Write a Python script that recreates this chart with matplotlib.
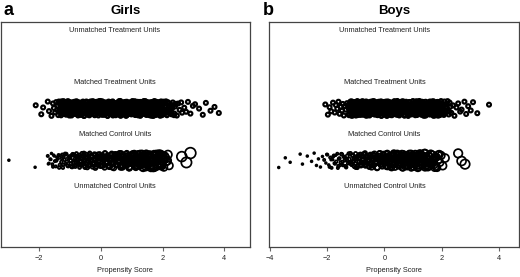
import numpy as np
import matplotlib
matplotlib.use('Agg')
import matplotlib.pyplot as plt

plt.rcParams['font.family'] = ['Liberation Sans', 'DejaVu Sans']

# ---------------- data ----------------
panel_letters = ['a', 'b']
panel_titles = ['Girls', 'Boys']
group_labels = ['Unmatched Treatment Units', 'Matched Treatment Units',
                'Matched Control Units', 'Unmatched Control Units']
label_levels = [4, 3, 2, 1]
treated_level = 2.5
control_level = 1.5
label_x = [0.45, 0.0]
xticks = [[-2, 0, 2, 4], [-4, -2, 0, 2, 4]]
xlims = [(-3.25, 4.83), (-4.03, 4.71)]
x_label = 'Propensity Score'

girls_treated = [
    -2.11, -1.93, -1.87, -1.72, -1.68, -1.60, -1.55, -1.52, -1.48, -1.45,
    -1.42, -1.40, -1.38, -1.35, -1.33, -1.30,
    -1.28, -1.26, -1.21, -1.19, -1.15, -1.12, -1.10, -1.06, -1.03, -1.01,
    -0.98, -0.95, -0.93, -0.90, -0.86, -0.84, -0.81, -0.79, -0.75, -0.73,
    -0.70, -0.68, -0.64, -0.62, -0.59, -0.57, -0.54, -0.51, -0.49, -0.46,
    -0.44, -0.41, -0.38, -0.36, -0.33, -0.31, -0.28, -0.25, -0.23, -0.20,
    -0.18, -0.15, -0.13, -0.10, -0.07, -0.05, -0.02, 0.00, 0.03, 0.05,
    0.08, 0.10, 0.13, 0.16, 0.18, 0.21, 0.23, 0.26, 0.28, 0.31,
    0.34, 0.36, 0.39, 0.41, 0.44, 0.46, 0.49, 0.52, 0.54, 0.57,
    0.59, 0.62, 0.64, 0.67, 0.70, 0.72, 0.75, 0.77, 0.80, 0.82,
    0.85, 0.88, 0.90, 0.93, 0.95, 0.98, 1.00, 1.03, 1.06, 1.08,
    1.11, 1.13, 1.16, 1.18, 1.21, 1.24, 1.26, 1.29, 1.31, 1.34,
    1.36, 1.39, 1.42, 1.44, 1.47, 1.49, 1.52, 1.54, 1.57, 1.60,
    1.62, 1.65, 1.67, 1.70, 1.72, 1.75, 1.78, 1.80, 1.83, 1.85,
    1.88, 1.90, 1.93, 1.96, 1.98, 2.01, 2.04, 2.07, 2.11, 2.15,
    2.19, 2.24, 2.29, 2.34, 2.40, 2.46,
    2.50, 2.55, 2.60, 2.63, 2.70, 2.76, 2.82, 2.90, 2.98, 3.05,
    3.18, 3.30, 3.40, 3.55, 3.68, 3.82,
    -1.36, -1.33, -1.31, -1.29, -1.27, -1.24, -1.22, -1.20, -1.17, -1.14,
    -1.13, -1.11, -1.08, -1.07, -1.04, -1.02, -1.00, -0.97, -0.96, -0.94,
    -0.91, -0.89, -0.87, -0.85, -0.83, -0.80, -0.78, -0.77, -0.74, -0.71,
    -0.69, -0.67, -0.65, -0.63, -0.61, -0.58, -0.56, -0.55, -0.52, -0.50,
    -0.48, -0.45, -0.43, -0.42, -0.39, -0.37, -0.35, -0.32, -0.30, -0.29,
    -0.26, -0.24, -0.22, -0.19, -0.17, -0.16, -0.14, -0.11, -0.09, -0.08,
    -0.06, -0.03, -0.01, 0.01, 0.02, 0.04, 0.07, 0.09, 0.11, 0.12,
    0.14, 0.17, 0.19, 0.20, 0.22, 0.25, 0.27, 0.29, 0.30, 0.33,
    0.35, 0.37, 0.38, 0.40, 0.43, 0.45, 0.47, 0.48, 0.51, 0.53,
    0.55, 0.56, 0.58, 0.61, 0.63, 0.65, 0.66, 0.69, 0.71, 0.73,
    0.74, 0.76, 0.79, 0.81, 0.83, 0.84, 0.87, 0.89, 0.91, 0.92,
    0.94, 0.97, 0.99, 1.01, 1.02, 1.05, 1.07, 1.09, 1.10, 1.12,
    1.15, 1.17, 1.19, 1.20, 1.23, 1.25, 1.27, 1.28, 1.30, 1.33,
    1.35, 1.37, 1.38, 1.41, 1.43, 1.45, 1.46, 1.48, 1.51, 1.53,
    1.55, 1.56, 1.59, 1.61, 1.63, 1.64, 1.66, 1.69, 1.71, 1.73,
    1.74, 1.77, 1.79, 1.81, 1.82, 1.84, 1.87, 1.89, 1.91, 1.92,
    1.95, 1.97, 1.99, 2.00, 2.03, 2.06, 2.09, 2.13, 2.17, 2.21,
    2.26, 2.31, 2.37, 2.43,
    -1.34, -1.30, -1.27, -1.23, -1.20, -1.16, -1.13, -1.09, -1.05, -1.02,
    -0.99, -0.96, -0.92, -0.88, -0.85, -0.82, -0.78, -0.76, -0.72, -0.69,
    -0.66, -0.63, -0.60, -0.56, -0.53, -0.50, -0.47, -0.45, -0.40, -0.37,
    -0.34, -0.30, -0.27, -0.24, -0.21, -0.18, -0.15, -0.12, -0.08, -0.06,
    -0.03, 0.00, 0.04, 0.06, 0.09, 0.13, 0.15, 0.18, 0.21, 0.24,
    0.27, 0.30, 0.32, 0.35, 0.39, 0.42, 0.44, 0.47, 0.50, 0.53,
    0.56, 0.59, 0.62, 0.64, 0.68, 0.70, 0.73, 0.76, 0.79, 0.82,
    0.84, 0.87, 0.90, 0.93, 0.96, 0.99, 1.02, 1.04, 1.07, 1.10,
    1.13, 1.16, 1.19, 1.22, 1.24, 1.27, 1.30, 1.33, 1.36, 1.39,
    1.41, 1.44, 1.47, 1.50, 1.53, 1.56, 1.58, 1.61, 1.64, 1.67,
    1.70, 1.73, 1.76, 1.79, 1.82, 1.86, 1.89, 1.92, 1.95, 1.99,
    2.02, 2.05, 2.10, 2.14, 2.20, 2.27, 2.33, 2.38,
]

girls_control = [
    -2.98, -2.13, -1.72, -1.68, -1.64, -1.60, -1.57, -1.53, -1.49, -1.46,
    -1.42, -1.39, -1.35, -1.32, -1.28, -1.25, -1.22, -1.18, -1.15, -1.12,
    -1.08, -1.05, -1.02, -0.98, -0.95, -0.92, -0.89, -0.85, -0.82, -0.79,
    -0.75, -0.72, -0.69, -0.66, -0.62, -0.59, -0.56, -0.53, -0.49, -0.46,
    -0.43, -0.40, -0.36, -0.33, -0.30, -0.27, -0.23, -0.20, -0.17, -0.14,
    -0.10, -0.07, -0.04, -0.01, 0.03, 0.06, 0.09, 0.12, 0.16, 0.19,
    0.22, 0.25, 0.29, 0.32, 0.35, 0.38, 0.42, 0.45, 0.48, 0.51,
    0.55, 0.58, 0.61, 0.64, 0.68, 0.71, 0.74, 0.77, 0.81, 0.84,
    0.87, 0.90, 0.94, 0.97, 1.00, 1.03, 1.07, 1.10, 1.13, 1.16,
    1.20, 1.23, 1.26, 1.29, 1.33, 1.36, 1.39, 1.42, 1.46, 1.49,
    1.52, 1.55, 1.59, 1.62, 1.65, 1.68, 1.72, 1.75, 1.78, 1.81,
    1.85, 1.88, 1.91, 1.94, 1.98, 2.01, 2.04, 2.08, 2.12, 2.17,
    2.21, 2.62, 2.77, 2.90,
    -1.70, -1.62, -1.55, -1.51, -1.44, -1.37, -1.33, -1.27, -1.23, -1.20,
    -1.16, -1.10, -1.06, -1.00, -0.96, -0.91, -0.87, -0.83, -0.77, -0.73,
    -0.70, -0.64, -0.60, -0.55, -0.51, -0.47, -0.41, -0.38, -0.34, -0.29,
    -0.25, -0.21, -0.18, -0.12, -0.08, -0.05, 0.01, 0.04, 0.08, 0.11,
    0.14, 0.17, 0.21, 0.24, 0.27, 0.30, 0.34, 0.37, 0.40, 0.43,
    0.47, 0.50, 0.53, 0.56, 0.60, 0.63, 0.66, 0.69, 0.73, 0.76,
    0.79, 0.82, 0.86, 0.89, 0.92, 0.95, 0.99, 1.02, 1.05, 1.08,
    1.12, 1.15, 1.18, 1.21, 1.25, 1.28, 1.31, 1.34, 1.38, 1.41,
    1.44, 1.47, 1.51, 1.54, 1.57, 1.60, 1.64, 1.67, 1.70, 1.73,
    1.77, 1.80, 1.83, 1.86, 1.90, 1.93, 1.96, 2.00, 2.06, 2.14,
    -0.93, -0.86, -0.80, -0.74, -0.68, -0.61, -0.54, -0.48, -0.44, -0.38,
    -0.31, -0.26, -0.19, -0.15, -0.09, -0.03, 0.02, 0.07, 0.13, 0.18,
    0.23, 0.28, 0.33, 0.39, 0.44, 0.49, 0.54, 0.59, 0.65, 0.70,
    0.75, 0.80, 0.85, 0.91, 0.96, 1.01, 1.06, 1.11, 1.17, 1.22,
    1.27, 1.32, 1.37, 1.43, 1.48, 1.53, 1.58, 1.63, 1.69, 1.74,
    1.79, 1.84, 1.89, 1.95, 2.03,
]
girls_control_w = [
    0.4, 0.4, 0.5, 0.4, 0.5, 0.4, 0.5, 0.4, 0.5, 0.5,
    0.5, 0.5, 0.6, 0.5, 0.6, 0.5, 0.6, 0.6, 0.5, 0.6,
    0.6, 0.7, 0.6, 0.7, 0.6, 0.7, 0.7, 0.6, 0.7, 0.7,
    0.7, 0.8, 0.7, 0.8, 0.7, 0.8, 0.8, 0.7, 0.8, 0.8,
    0.8, 0.9, 0.8, 0.9, 0.8, 0.9, 0.8, 0.9, 0.9, 0.8,
    0.9, 0.9, 0.8, 1.0, 0.9, 1.0, 0.9, 1.0, 0.9, 1.0,
    1.0, 0.9, 1.0, 1.1, 1.0, 0.9, 1.1, 1.0, 1.0, 1.1,
    1.0, 1.1, 1.0, 1.2, 1.1, 1.0, 1.2, 1.1, 1.2, 1.1,
    1.2, 1.1, 1.3, 1.2, 1.1, 1.3, 1.2, 1.4, 1.2, 1.3,
    1.4, 1.2, 1.3, 1.5, 1.3, 1.4, 1.5, 1.3, 1.6, 1.4,
    1.5, 1.4, 1.6, 1.5, 1.4, 1.7, 1.5, 1.6, 1.4, 1.7,
    1.6, 1.5, 1.7, 1.6, 1.9, 1.7, 1.6, 1.8, 1.7, 1.8,
    1.7, 2.2, 2.3, 2.4,
    0.4, 0.4, 0.5, 0.4, 0.5, 0.5, 0.6, 0.5, 0.6, 0.5,
    0.6, 0.6, 0.7, 0.6, 0.7, 0.7, 0.6, 0.7, 0.8, 0.7,
    0.8, 0.7, 0.8, 0.8, 0.9, 0.8, 0.8, 0.9, 0.8, 0.9,
    0.9, 0.8, 1.0, 0.9, 0.9, 1.0, 0.9, 1.0, 1.0, 0.9,
    1.0, 1.1, 1.0, 0.9, 1.1, 1.0, 1.1, 1.0, 1.1, 1.2,
    1.0, 1.1, 1.2, 1.1, 1.0, 1.2, 1.1, 1.3, 1.2, 1.1,
    1.2, 1.3, 1.1, 1.2, 1.3, 1.2, 1.4, 1.3, 1.2, 1.4,
    1.3, 1.2, 1.4, 1.5, 1.3, 1.4, 1.3, 1.5, 1.4, 1.6,
    1.5, 1.4, 1.6, 1.5, 1.7, 1.4, 1.6, 1.5, 1.7, 1.6,
    1.5, 1.8, 1.6, 1.7, 1.9, 1.6, 1.8, 1.7, 1.8, 1.9,
    0.7, 0.7, 0.8, 0.7, 0.8, 0.8, 0.9, 0.8, 0.9, 0.9,
    0.9, 1.0, 0.9, 1.0, 0.9, 1.0, 1.0, 1.1, 1.0, 1.1,
    1.0, 1.1, 1.2, 1.0, 1.1, 1.2, 1.1, 1.2, 1.3, 1.1,
    1.2, 1.3, 1.2, 1.3, 1.4, 1.2, 1.3, 1.4, 1.3, 1.5,
    1.4, 1.3, 1.5, 1.4, 1.6, 1.5, 1.4, 1.6, 1.5, 1.7,
    1.6, 1.5, 1.7, 1.6, 1.8,
]

boys_treated = [
    -2.07, -1.98, -1.92, -1.86, -1.80, -1.74, -1.70, -1.65, -1.61, -1.57,
    -1.53, -1.49, -1.46, -1.42, -1.39, -1.35, -1.31, -1.28, -1.25,
    -1.22, -1.19, -1.16, -1.13, -1.11, -1.08, -1.05, -1.02, -0.99, -0.97,
    -0.94, -0.91, -0.88, -0.86, -0.83, -0.80, -0.77, -0.74, -0.72, -0.69,
    -0.66, -0.63, -0.61, -0.58, -0.55, -0.52, -0.49, -0.47, -0.44, -0.41,
    -0.38, -0.36, -0.33, -0.30, -0.27, -0.24, -0.22, -0.19, -0.16, -0.13,
    -0.11, -0.08, -0.05, -0.02, 0.01, 0.03, 0.06, 0.09, 0.12, 0.14,
    0.17, 0.20, 0.23, 0.26, 0.28, 0.31, 0.34, 0.37, 0.39, 0.42,
    0.45, 0.48, 0.51, 0.53, 0.56, 0.59, 0.62, 0.64, 0.67, 0.70,
    0.73, 0.76, 0.78, 0.81, 0.84, 0.87, 0.89, 0.92, 0.95, 0.98,
    1.01, 1.03, 1.06, 1.09, 1.12, 1.14, 1.17, 1.20, 1.23, 1.26,
    1.28, 1.31, 1.34, 1.37, 1.39, 1.42, 1.45, 1.48, 1.51, 1.53,
    1.56, 1.59, 1.62, 1.64, 1.67, 1.70, 1.73, 1.76, 1.78, 1.81,
    1.84, 1.87, 1.89, 1.92, 1.95, 1.98, 2.01, 2.04, 2.08, 2.12,
    2.17, 2.22, 2.28, 2.34,
    2.40, 2.45, 2.52, 2.58, 2.65, 2.70, 2.80, 2.86, 2.93, 3.02,
    3.10, 3.25, 3.66,
    -1.26, -1.24, -1.21, -1.18, -1.17, -1.15, -1.12, -1.10, -1.07, -1.06,
    -1.04, -1.01, -1.00, -0.98, -0.96, -0.93, -0.92, -0.90, -0.87, -0.85,
    -0.84, -0.82, -0.79, -0.78, -0.76, -0.73, -0.71, -0.70, -0.68, -0.65,
    -0.64, -0.62, -0.59, -0.57, -0.56, -0.54, -0.51, -0.50, -0.48, -0.45,
    -0.43, -0.42, -0.40, -0.37, -0.35, -0.34, -0.31, -0.29, -0.28, -0.26,
    -0.23, -0.21, -0.20, -0.17, -0.15, -0.14, -0.12, -0.09, -0.07, -0.06,
    -0.04, -0.01, 0.00, 0.02, 0.05, 0.07, 0.08, 0.10, 0.13, 0.15,
    0.16, 0.19, 0.21, 0.22, 0.24, 0.27, 0.29, 0.30, 0.33, 0.35,
    0.36, 0.38, 0.41, 0.43, 0.44, 0.47, 0.49, 0.50, 0.52, 0.55,
    0.57, 0.58, 0.61, 0.63, 0.65, 0.66, 0.69, 0.71, 0.72, 0.75,
    0.77, 0.79, 0.80, 0.83, 0.85, 0.86, 0.88, 0.91, 0.93, 0.94,
    0.97, 0.99, 1.00, 1.02, 1.05, 1.07, 1.08, 1.11, 1.13, 1.15,
    1.16, 1.19, 1.21, 1.22, 1.25, 1.27, 1.29, 1.30, 1.33, 1.35,
    1.36, 1.38, 1.41, 1.43, 1.44, 1.47, 1.49, 1.50, 1.52, 1.55,
    1.57, 1.58, 1.61, 1.63, 1.65, 1.66, 1.69, 1.71, 1.72, 1.75,
    1.77, 1.79, 1.80, 1.83, 1.85, 1.86, 1.88, 1.91, 1.93, 1.94,
    1.97, 2.00, 2.03, 2.06, 2.10, 2.14, 2.19, 2.25, 2.31,
    -1.24, -1.20, -1.17, -1.14, -1.10, -1.07, -1.04, -1.00, -0.97, -0.95,
    -0.92, -0.89, -0.85, -0.82, -0.79, -0.76, -0.73, -0.70, -0.67, -0.64,
    -0.60, -0.57, -0.54, -0.51, -0.48, -0.45, -0.42, -0.39, -0.36, -0.33,
    -0.30, -0.27, -0.24, -0.21, -0.18, -0.15, -0.12, -0.09, -0.06, -0.03,
    0.00, 0.04, 0.07, 0.10, 0.13, 0.16, 0.19, 0.22, 0.25, 0.28,
    0.31, 0.34, 0.37, 0.40, 0.43, 0.46, 0.49, 0.52, 0.55, 0.58,
    0.61, 0.64, 0.67, 0.70, 0.73, 0.76, 0.79, 0.82, 0.85, 0.88,
    0.91, 0.94, 0.97, 1.00, 1.03, 1.06, 1.09, 1.12, 1.15, 1.18,
    1.21, 1.24, 1.27, 1.30, 1.33, 1.36, 1.39, 1.42, 1.45, 1.48,
    1.51, 1.54, 1.57, 1.60, 1.63, 1.66, 1.69, 1.72, 1.75, 1.78,
    1.81, 1.84, 1.87, 1.90, 1.94, 1.97, 2.01, 2.05, 2.09, 2.15,
    2.21, 2.27,
]

boys_control = [
    -3.70, -3.47, -3.30, -2.95, -2.87, -2.70, -2.55, -2.46, -2.38, -2.31,
    -2.24, -2.17, -2.11, -2.05, -2.00, -1.95, -1.90, -1.85, -1.81, -1.77,
    -1.73, -1.69, -1.65, -1.61, -1.57, -1.53, -1.49, -1.45, -1.42, -1.38,
    -1.34, -1.30, -1.27, -1.23, -1.19, -1.16, -1.12, -1.09, -1.05, -1.02,
    -0.98, -0.95, -0.91, -0.88, -0.84, -0.81, -0.77, -0.74, -0.70, -0.67,
    -0.63, -0.60, -0.56, -0.53, -0.49, -0.46, -0.42, -0.39, -0.35, -0.32,
    -0.28, -0.25, -0.21, -0.18, -0.14, -0.11, -0.07, -0.04, 0.00, 0.03,
    0.07, 0.10, 0.14, 0.17, 0.21, 0.24, 0.28, 0.31, 0.35, 0.38,
    0.42, 0.45, 0.49, 0.52, 0.56, 0.59, 0.63, 0.66, 0.70, 0.73,
    0.77, 0.80, 0.84, 0.87, 0.91, 0.94, 0.98, 1.01, 1.05, 1.08,
    1.12, 1.15, 1.19, 1.22, 1.26, 1.29, 1.33, 1.36, 1.40, 1.43,
    1.47, 1.50, 1.54, 1.58, 1.62, 1.66, 1.71, 1.76, 1.82, 1.88,
    1.95, 2.04, 2.12, 2.58, 2.70, 2.82,
    -2.02, -1.92, -1.87, -1.79, -1.75, -1.71, -1.63, -1.59, -1.55, -1.51,
    -1.47, -1.40, -1.36, -1.32, -1.25, -1.21, -1.14, -1.10, -1.07, -1.00,
    -0.96, -0.93, -0.86, -0.82, -0.79, -0.72, -0.68, -0.65, -0.58, -0.54,
    -0.51, -0.44, -0.40, -0.37, -0.30, -0.26, -0.23, -0.16, -0.12, -0.09,
    -0.02, 0.01, 0.05, 0.09, 0.12, 0.16, 0.19, 0.23, 0.26, 0.30,
    0.33, 0.37, 0.40, 0.44, 0.47, 0.51, 0.54, 0.58, 0.61, 0.65,
    0.68, 0.72, 0.75, 0.79, 0.82, 0.86, 0.89, 0.93, 0.96, 1.00,
    1.03, 1.07, 1.10, 1.14, 1.17, 1.21, 1.24, 1.28, 1.31, 1.35,
    1.38, 1.42, 1.45, 1.49, 1.52, 1.56, 1.60, 1.64, 1.68, 1.73,
    1.78, 1.84, 1.90, 1.98,
    -1.15, -1.08, -1.01, -0.94, -0.87, -0.80, -0.73, -0.66, -0.59, -0.52,
    -0.45, -0.38, -0.31, -0.24, -0.17, -0.10, -0.04, 0.02, 0.08, 0.13,
    0.19, 0.25, 0.31, 0.36, 0.42, 0.48, 0.54, 0.60, 0.66, 0.71,
    0.77, 0.83, 0.89, 0.95, 1.01, 1.06, 1.12, 1.18, 1.24, 1.30,
    1.36, 1.42, 1.48, 1.55, 1.62, 1.70, 1.80, 1.92,
]
boys_control_w = [
    0.4, 0.4, 0.4, 0.4, 0.4, 0.4, 0.4, 0.4, 0.4, 0.4,
    0.4, 0.4, 0.5, 0.4, 0.5, 0.4, 0.5, 0.5, 0.4, 0.5,
    0.5, 0.6, 0.5, 0.6, 0.5, 0.6, 0.6, 0.5, 0.6, 0.6,
    0.6, 0.7, 0.6, 0.7, 0.7, 0.6, 0.7, 0.7, 0.8, 0.7,
    0.8, 0.7, 0.8, 0.8, 0.9, 0.8, 0.9, 0.8, 0.9, 0.9,
    1.0, 0.9, 1.0, 0.9, 1.1, 1.0, 0.9, 1.1, 1.0, 1.2,
    1.0, 1.1, 1.2, 1.0, 1.1, 1.3, 1.1, 1.2, 1.3, 1.1,
    1.3, 1.2, 1.4, 1.1, 1.3, 1.2, 1.4, 1.3, 1.2, 1.4,
    1.3, 1.5, 1.2, 1.4, 1.3, 1.5, 1.4, 1.3, 1.5, 1.4,
    1.5, 1.3, 1.6, 1.4, 1.5, 1.3, 1.6, 1.5, 1.4, 1.6,
    1.5, 1.7, 1.4, 1.6, 1.5, 1.4, 1.7, 1.5, 1.6, 1.4,
    1.6, 1.5, 1.7, 1.4, 1.6, 1.5, 1.4, 1.6, 1.5, 1.6,
    1.5, 1.7, 1.8, 1.9, 2.0, 2.1,
    0.4, 0.5, 0.4, 0.5, 0.5, 0.4, 0.5, 0.6, 0.5, 0.6,
    0.6, 0.5, 0.6, 0.7, 0.6, 0.7, 0.7, 0.8, 0.7, 0.8,
    0.8, 0.9, 0.8, 0.9, 0.9, 1.0, 0.9, 1.0, 1.1, 0.9,
    1.0, 1.1, 1.2, 1.0, 1.1, 1.2, 1.1, 1.3, 1.2, 1.1,
    1.3, 1.2, 1.4, 1.1, 1.3, 1.2, 1.4, 1.3, 1.5, 1.2,
    1.4, 1.3, 1.5, 1.4, 1.3, 1.5, 1.6, 1.4, 1.5, 1.3,
    1.6, 1.4, 1.5, 1.7, 1.4, 1.6, 1.5, 1.4, 1.6, 1.7,
    1.5, 1.4, 1.6, 1.5, 1.7, 1.4, 1.6, 1.5, 1.7, 1.6,
    1.4, 1.6, 1.5, 1.7, 1.6, 1.5, 1.7, 1.6, 1.5, 1.6,
    1.7, 1.5, 1.6, 1.7,
    0.7, 0.7, 0.8, 0.8, 0.8, 0.9, 0.9, 1.0, 0.9, 1.0,
    1.1, 1.0, 1.1, 1.2, 1.1, 1.2, 1.3, 1.2, 1.3, 1.4,
    1.2, 1.3, 1.4, 1.3, 1.5, 1.4, 1.3, 1.5, 1.4, 1.6,
    1.5, 1.4, 1.6, 1.5, 1.4, 1.6, 1.5, 1.7, 1.6, 1.5,
    1.6, 1.5, 1.7, 1.6, 1.5, 1.6, 1.7, 1.6,
]

# vertical jitter offsets (fractions of the jitter band)
jitter_offsets = [
    0.42, -0.77, 0.13, 0.91, -0.35, -0.98, 0.66, 0.05, -0.52, 0.84,
    -0.21, 0.37, -0.88, 0.71, -0.09, 0.58, -0.64, 0.19, 0.97, -0.43,
    0.27, -0.81, 0.62, -0.14, 0.88, -0.57, 0.03, -0.93, 0.49, 0.76,
    -0.29, -0.70, 0.33, 0.95, -0.06, -0.48, 0.81, -0.85, 0.11, 0.55,
    -0.37, 0.69, -0.99, 0.24, -0.62, 0.86, -0.18, 0.44, -0.74, 0.07,
    0.93, -0.31, -0.55, 0.64, 0.17, -0.90, 0.38, -0.12, 0.79, -0.67,
    0.52, -0.25, 0.99, -0.45, 0.15, -0.83, 0.60, -0.03, 0.73, -0.59,
    0.29, -0.95, 0.46, 0.89, -0.16, -0.72, 0.35, -0.40, 0.82, 0.01,
    -0.79, 0.57, -0.27, 0.68, -0.50, 0.21, 0.96, -0.87, 0.40, -0.08,
    0.75, -0.61, 0.09, -0.34, 0.87, -0.96, 0.51, -0.20, 0.31, -0.69,
    0.63, 0.14, -0.53, 0.92, -0.39, 0.47, -0.80, 0.25, -0.01, 0.70,
    -0.92, 0.36, -0.23, 0.85, -0.47, 0.59, -0.11, 0.98, -0.65, 0.22,
    -0.86, 0.54, 0.08, -0.33, 0.78, -0.58, 0.41, -0.97, 0.12, 0.67,
    -0.42, -0.15, 0.90, -0.73, 0.30, -0.26, 0.83, -0.63, 0.50, 0.04,
    -0.89, 0.61, -0.36, 0.18, 0.94, -0.49, 0.72, -0.07, -0.78, 0.43,
    0.26, -0.94, 0.65, -0.19, 0.80, -0.56, 0.10, -0.44, 0.87, -0.68,
    0.34, 0.56, -0.02, -0.84, 0.74, -0.30, 0.20, -0.60, 0.92, -0.13,
    0.48, -0.91, 0.28, 0.63, -0.46, 0.06, -0.75, 0.83, -0.24, 0.39,
    -0.66, 0.97, -0.10, 0.53, -0.82, 0.16, -0.38, 0.77, -0.54, 0.45,
    -0.04, 0.89, -0.71, 0.23, -0.28, 0.60, -0.93, 0.32, -0.17, 0.70,
]

panels = [
    (girls_treated, girls_control, girls_control_w),
    (boys_treated, boys_control, boys_control_w),
]

# ---------------- styling ----------------
JIT = 0.145
BASE_MS = 2.8
LW = 1.55
INK = '#000000'
TXT = '#222222'
FS = 5.3

fig = plt.figure(figsize=(5.2, 2.77), dpi=100)
rects = [[0.001, 0.1083, 0.4798, 0.8123], [0.5179, 0.1083, 0.4802, 0.8123]]

for i, (tx, cx, cw) in enumerate(panels):
    ax = fig.add_axes(rects[i])
    tx = np.asarray(tx)
    cx = np.asarray(cx)
    cw = np.asarray(cw)
    jt = np.resize(np.roll(jitter_offsets, 17 * i), len(tx))
    jc = np.resize(np.roll(jitter_offsets, 61 + 29 * i), len(cx))
    ax.scatter(tx, treated_level + JIT * jt, s=BASE_MS ** 2,
               facecolors='none', edgecolors=INK, linewidths=LW)
    ax.scatter(cx, control_level + JIT * jc, s=(BASE_MS * 1.15 * cw) ** 2,
               facecolors='none', edgecolors=INK, linewidths=1.25)
    for lab, lev in zip(group_labels, label_levels):
        ax.text(label_x[i], lev, lab, ha='center', va='center',
                fontsize=FS, color=TXT)
    ax.set_xlim(*xlims[i])
    ax.set_ylim(-0.16, 4.16)
    ax.set_yticks([])
    ax.set_xticks(xticks[i])
    ax.set_xticklabels([('\u2212' + str(-t)) if t < 0 else str(t) for t in xticks[i]])
    ax.tick_params(axis='x', length=3, width=0.8, color='#666666', pad=2.5,
                   labelsize=FS, labelcolor=TXT)
    for sp in ax.spines.values():
        sp.set_linewidth(0.9)
        sp.set_color('#444444')
    ax.set_xlabel(x_label, fontsize=FS, color=TXT, labelpad=4)
    ax.set_title(panel_titles[i], fontsize=9.5, fontweight='bold', pad=6)
    fig.text(rects[i][0] + (0.005 if i == 0 else -0.013), 0.962, panel_letters[i],
             fontsize=13, fontweight='bold', ha='left', va='center')

fig.savefig('out.png', dpi=100)
